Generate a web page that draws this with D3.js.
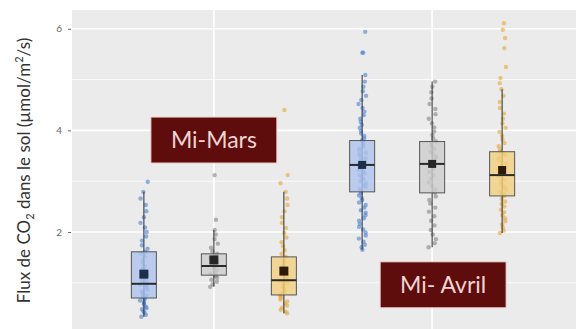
<!DOCTYPE html>
<html>
<head>
<meta charset="utf-8">
<script src="https://cdn.jsdelivr.net/npm/d3@7"></script>
<style>
  html, body { margin: 0; padding: 0; background: #ffffff; }
  svg { display: block; }
</style>
</head>
<body>
<svg id="chart" width="576" height="329"></svg>
<script>
// Sampling periods and the three plots measured in each
const periods = ["Mi-Mars", "Mi-Avril"];
const periodLabels = ["Mi-Mars", "Mi- Avril"];
const plots = ["bleu", "gris", "jaune"];
const yTicks = [2, 4, 6];

// Box summaries per period/plot: [q1, median, q3, whisker low, whisker high, mean]
const marsBleuStats  = [0.70, 0.98, 1.61, 0.33, 2.79, 1.17];
const marsGrisStats  = [1.15, 1.33, 1.57, 0.92, 2.04, 1.45];
const marsJauneStats = [0.76, 1.05, 1.51, 0.40, 2.79, 1.23];
const avrBleuStats   = [2.79, 3.32, 3.80, 1.65, 5.09, 3.32];
const avrGrisStats   = [2.77, 3.34, 3.78, 1.70, 4.96, 3.34];
const avrJauneStats  = [2.71, 3.12, 3.58, 1.98, 4.81, 3.22];

// Individual soil CO2 flux measurements (µmol/m²/s)
const marsBleu = [0.33,0.37,0.41,0.44,0.48,0.50,0.53,0.57,0.60,0.62,0.65,0.68,0.70,0.72,0.75,0.77,0.80,0.83,0.86,0.88,0.91,0.94,0.96,0.98,1.00,1.03,1.07,1.11,1.16,1.21,1.27,1.33,1.39,1.45,1.52,1.58,1.61,1.67,1.74,1.83,1.91,2.00,2.09,2.18,2.29,2.41,2.53,2.66,2.79,2.99];
const marsGris = [0.92,0.97,1.02,1.06,1.10,1.13,1.15,1.18,1.21,1.25,1.29,1.32,1.34,1.37,1.41,1.45,1.49,1.53,1.57,1.62,1.69,1.77,1.86,1.95,2.04,2.24,3.12];
const marsJaune = [0.40,0.43,0.47,0.51,0.55,0.59,0.63,0.67,0.71,0.74,0.77,0.80,0.84,0.88,0.91,0.95,0.99,1.03,1.05,1.08,1.12,1.17,1.22,1.27,1.33,1.39,1.45,1.51,1.57,1.64,1.72,1.80,1.89,1.98,2.08,2.18,2.29,2.41,2.53,2.66,2.79,2.96,3.12,4.40];
const avrBleu = [1.65,1.70,1.75,1.81,1.87,1.93,1.99,2.05,2.10,2.16,2.22,2.27,2.33,2.38,2.43,2.48,2.53,2.58,2.63,2.67,2.72,2.76,2.80,2.84,2.88,2.92,2.96,3.00,3.04,3.08,3.12,3.15,3.19,3.22,3.26,3.29,3.32,3.35,3.38,3.42,3.45,3.49,3.53,3.56,3.60,3.64,3.68,3.72,3.76,3.80,3.84,3.89,3.94,3.99,4.05,4.11,4.17,4.23,4.30,4.37,4.44,4.52,4.60,4.68,4.77,4.86,4.96,5.09,5.53,5.53,5.94];
const avrGris = [1.70,1.78,1.86,1.95,2.04,2.13,2.22,2.31,2.40,2.48,2.56,2.63,2.70,2.77,2.84,2.91,2.98,3.05,3.12,3.18,3.24,3.30,3.34,3.38,3.43,3.48,3.53,3.58,3.63,3.68,3.73,3.78,3.84,3.91,3.98,4.06,4.14,4.23,4.32,4.42,4.52,4.63,4.75,4.86,4.96];
const avrJaune = [1.98,2.03,2.09,2.15,2.21,2.27,2.33,2.39,2.44,2.50,2.55,2.60,2.65,2.71,2.75,2.79,2.83,2.87,2.91,2.95,2.99,3.03,3.07,3.10,3.12,3.15,3.19,3.23,3.27,3.31,3.35,3.39,3.43,3.47,3.51,3.55,3.58,3.63,3.69,3.75,3.82,3.89,3.97,4.05,4.14,4.23,4.33,4.44,4.56,4.68,4.81,4.93,5.03,5.25,5.62,5.82,5.98,6.11];

const groups = [
  { period: "Mi-Mars",  plot: "bleu",  stats: marsBleuStats,  values: marsBleu },
  { period: "Mi-Mars",  plot: "gris",  stats: marsGrisStats,  values: marsGris },
  { period: "Mi-Mars",  plot: "jaune", stats: marsJauneStats, values: marsJaune },
  { period: "Mi-Avril", plot: "bleu",  stats: avrBleuStats,   values: avrBleu },
  { period: "Mi-Avril", plot: "gris",  stats: avrGrisStats,   values: avrGris },
  { period: "Mi-Avril", plot: "jaune", stats: avrJauneStats,  values: avrJaune }
];

const pointColor = { bleu: "#4a82d6", gris: "#858585", jaune: "#e8a733" };
const boxFill    = { bleu: "#aec3ee", gris: "#cdcdcd", jaune: "#f3cf80" };
const meanColor  = { bleu: "#1c2f48", gris: "#262626", jaune: "#2e1a08" };

const panel = { left: 72, right: 576, top: 10, bottom: 329 };

const svg = d3.select("#chart");

const x = d3.scalePoint().domain(periods).range([panel.left, panel.right - 2]).padding(0.65);
const dodge = d3.scaleBand().domain(plots).range([-105, 105]);
const y = d3.scaleLinear().domain([0.09, 6.37]).range([panel.bottom, panel.top]);

// Panel background and grid
svg.append("rect")
  .attr("x", panel.left).attr("y", panel.top)
  .attr("width", panel.right - panel.left).attr("height", panel.bottom - panel.top)
  .attr("fill", "#ebebeb");

const minorTicks = [1, 3, 5];
svg.append("g").selectAll("line").data(minorTicks).join("line")
  .attr("x1", panel.left).attr("x2", panel.right)
  .attr("y1", d => y(d)).attr("y2", d => y(d))
  .attr("stroke", "#ffffff").attr("stroke-width", 0.8);
svg.append("g").selectAll("line").data(yTicks).join("line")
  .attr("x1", panel.left).attr("x2", panel.right)
  .attr("y1", d => y(d)).attr("y2", d => y(d))
  .attr("stroke", "#ffffff").attr("stroke-width", 1.6);
svg.append("g").selectAll("line").data(periods).join("line")
  .attr("x1", d => x(d)).attr("x2", d => x(d))
  .attr("y1", panel.top).attr("y2", panel.bottom)
  .attr("stroke", "#ffffff").attr("stroke-width", 1.6);

// Y axis
const yAxis = d3.axisLeft(y).tickValues(yTicks).tickFormat(d3.format("d")).tickSize(3).tickPadding(6);
const gy = svg.append("g").attr("transform", `translate(${panel.left - 1},0)`).call(yAxis);
gy.select(".domain").remove();
gy.selectAll(".tick line").attr("stroke", "#666").attr("stroke-width", 1);
gy.selectAll(".tick text").attr("fill", "#666").attr("font-size", 10)
  .attr("font-family", "Lato, 'Open Sans', sans-serif");

// Y axis title
const title = svg.append("text")
  .attr("transform", `translate(30,${(panel.top + panel.bottom) / 2 + 1}) rotate(-90)`)
  .attr("text-anchor", "middle")
  .attr("font-family", "Lato, 'Open Sans', sans-serif")
  .attr("font-size", 17)
  .attr("fill", "#333");
title.append("tspan").text("Flux de CO");
title.append("tspan").attr("font-size", 11).attr("dy", 4).text("2");
title.append("tspan").attr("dy", -4).text(" dans le sol (µmol/m");
title.append("tspan").attr("font-size", 11).attr("dy", -7).text("2");
title.append("tspan").attr("dy", 7).text("/s)");

// Jittered points, boxes and means
const boxW = 25;
// deterministic horizontal spread of the points around each box centre
const jitter = i => {
  const s = Math.sin(i * 12.9898 + 78.233) * 43758.5453;
  return ((s - Math.floor(s)) - 0.5) * 8;
};

groups.forEach((g, gi) => {
  const cx = x(g.period) + dodge(g.plot) + dodge.bandwidth() / 2;
  const [q1, med, q3, lo, hi, mean] = g.stats;
  const layer = svg.append("g");
  const isApril = g.period === "Mi-Avril";

  layer.selectAll("circle").data(g.values).join("circle")
    .attr("cx", (d, i) => cx + jitter(i + gi * 101))
    .attr("cy", d => y(d))
    .attr("r", 2.2)
    .attr("fill", pointColor[g.plot])
    .attr("fill-opacity", 0.6);

  // whisker
  layer.append("line")
    .attr("x1", cx).attr("x2", cx)
    .attr("y1", y(hi)).attr("y2", y(lo))
    .attr("stroke", "#3b3b3b").attr("stroke-width", 1.1);

  // box
  layer.append("rect")
    .attr("x", cx - boxW / 2).attr("width", boxW)
    .attr("y", y(q3)).attr("height", y(q1) - y(q3))
    .attr("fill", boxFill[g.plot]).attr("fill-opacity", 0.8)
    .attr("stroke", "#555").attr("stroke-width", 1);

  // median
  layer.append("line")
    .attr("x1", cx - boxW / 2).attr("x2", cx + boxW / 2)
    .attr("y1", y(med)).attr("y2", y(med))
    .attr("stroke", "#2a2a2a").attr("stroke-width", 2);

  // mean
  const ms = isApril ? 8 : 9;
  layer.append("rect")
    .attr("x", cx - ms / 2).attr("y", y(mean) - ms / 2)
    .attr("width", ms).attr("height", ms)
    .attr("fill", meanColor[g.plot]);
});

// Period annotations
const labelPos = [
  { period: "Mi-Mars",  dx: 0,  v: 3.81 },
  { period: "Mi-Avril", dx: 11, v: 0.96 }
];
labelPos.forEach((p, i) => {
  const cx = x(p.period) + p.dx, cy = y(p.v);
  const gL = svg.append("g");
  gL.append("rect")
    .attr("x", cx - 63).attr("y", cy - 23)
    .attr("width", 126).attr("height", 46)
    .attr("fill", "#5e0c0c")
    .attr("stroke", "#f3d6d2").attr("stroke-width", 1);
  gL.append("text")
    .attr("x", cx).attr("y", cy + 8)
    .attr("text-anchor", "middle")
    .attr("font-family", "Lato, 'Open Sans', sans-serif")
    .attr("font-size", 23)
    .attr("fill", "#f2d4d2")
    .text(periodLabels[i]);
});
</script>
</body>
</html>
